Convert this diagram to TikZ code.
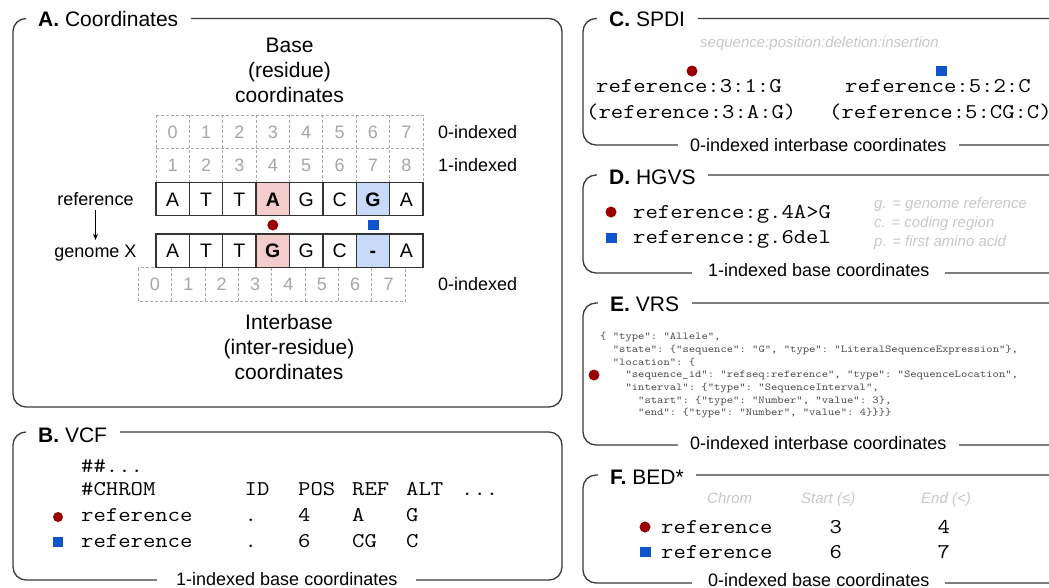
\documentclass[tikz,border=0pt]{standalone}
\usepackage{fontspec}
\setmainfont{Liberation Sans}
\usepackage{graphicx}
\usetikzlibrary{arrows.meta}

\definecolor{framec}{HTML}{3A3A3A}
\definecolor{cellc}{HTML}{333333}
\definecolor{dashc}{HTML}{A8A8A8}
\definecolor{numc}{HTML}{A6A6A6}
\definecolor{notec}{HTML}{C8C8C8}
\definecolor{jsonc}{HTML}{4A4A4A}
\definecolor{mutred}{HTML}{990000}
\definecolor{delblue}{HTML}{1155CC}
\definecolor{snvfill}{HTML}{F4CCCC}
\definecolor{delfill}{HTML}{C9DAF8}

% Courier-width typewriter text: size, then content
\newcommand{\cmono}[2]{\scalebox{1.143}[1]{\fontsize{#1}{#1}\selectfont\ttfamily\frenchspacing #2}}

\begin{document}
\begin{tikzpicture}[x=1pt,y=-1pt,
  frame/.style={draw=framec, line width=1.3pt, rounded corners=13pt},
  ptitle/.style={fill=white, inner xsep=12.5pt, inner ysep=3pt, anchor=base west,
                 font=\fontsize{21}{21}\selectfont},
  pfoot/.style={fill=white, inner ysep=3pt, anchor=base west,
                font=\fontsize{18}{18}\selectfont},
  headline/.style={anchor=base, inner sep=0pt, font=\fontsize{21}{21}\selectfont},
  sidelabel/.style={anchor=base, inner sep=0pt, font=\fontsize{18}{18}\selectfont},
  idxlabel/.style={anchor=base west, inner sep=0pt, font=\fontsize{18}{18}\selectfont},
  idxcell/.style={minimum width=33.375pt, minimum height=33.5pt, inner sep=0pt,
                  text=numc, text height=12.9pt, text depth=0pt,
                  font=\fontsize{18}{18}\selectfont},
  seqcell/.style={draw=cellc, line width=1.3pt, minimum width=33.375pt,
                  minimum height=33.5pt, inner sep=0pt, text height=14pt,
                  text depth=0pt, font=\fontsize{19.5}{19.5}\selectfont},
  snvcell/.style={seqcell, fill=snvfill, font=\fontsize{19.5}{19.5}\selectfont\bfseries},
  delcell/.style={seqcell, fill=delfill, font=\fontsize{19.5}{19.5}\selectfont\bfseries},
  dashgrid/.style={draw=dashc, line width=0.9pt, dash pattern=on 3pt off 2pt},
  mutdot/.style={circle, fill=mutred, minimum size=11pt, inner sep=0pt},
  delsq/.style={rectangle, fill=delblue, minimum width=11pt, minimum height=10.5pt, inner sep=0pt},
  monotxt/.style={anchor=base west, inner sep=0pt},
  notetxt/.style={anchor=base west, inner sep=0pt, text=notec,
                  font=\fontsize{15}{15}\selectfont\itshape},
  jsontxt/.style={anchor=base west, inner sep=0pt, text=jsonc}
]
\useasboundingbox (0,0) rectangle (1049,587);
\clip (0,0) rectangle (1049,587);

% ---------------- A. Coordinates ----------------
\draw[frame] (13,18.5) rectangle (562,407);
\node[ptitle] (titleA) at (25.5,26) {\textbf{A.} Coordinates\hspace{3.5pt}};

\node[headline] (baseh1) at (289.5,52.5) {Base};
\node[headline] (baseh2) at (289.5,77.5) {(residue)};
\node[headline] (baseh3) at (289.5,102.5) {coordinates};

% dashed index grids
\draw[dashgrid] (156,115) rectangle (423,182);
\draw[dashgrid] (156,148.5) -- (423,148.5);
\foreach \k in {1,...,7}
  \draw[dashgrid] ({156+33.375*\k},115) -- ({156+33.375*\k},182);
\draw[dashgrid] (138.3,267.5) rectangle (405.3,301);
\foreach \k in {1,...,7}
  \draw[dashgrid] ({138.3+33.375*\k},267.5) -- ({138.3+33.375*\k},301);

\foreach \i in {0,...,7} {
  \pgfmathtruncatemacro{\j}{\i+1}
  \node[idxcell] (zb-\i) at ({156+33.375*(\i+0.5)},131.75) {\i};
  \node[idxcell] (ob-\i) at ({156+33.375*(\i+0.5)},165.25) {\j};
  \node[idxcell] (ib-\i) at ({138.3+33.375*(\i+0.5)},284.25) {\i};
}

% sequences
\foreach \i/\t/\s in {0/A/seqcell,1/T/seqcell,2/T/seqcell,3/A/snvcell,
                      4/G/seqcell,5/C/seqcell,6/G/delcell,7/A/seqcell}
  \node[\s] (ref-\i) at ({156+33.375*(\i+0.5)},199) {\t};
\foreach \i/\t/\s in {0/A/seqcell,1/T/seqcell,2/T/seqcell,3/G/snvcell,
                      4/G/seqcell,5/C/seqcell,6/-/delcell,7/A/seqcell}
  \node[\s] (gen-\i) at ({156+33.375*(\i+0.5)},250.75) {\t};

\node[mutdot] (a-dot) at (272.8,225) {};
\node[delsq] (a-sq) at (373,225) {};

\node[idxlabel] (lab-zb) at (438,138.25) {0-indexed};
\node[idxlabel] (lab-ob) at (438,171.75) {1-indexed};
\node[idxlabel] (lab-ib) at (438,290.75) {0-indexed};

\node[sidelabel] (reflab) at (95.5,205.5) {reference};
\node[sidelabel] (genlab) at (95.5,257) {genome X};
\draw[-{Stealth[length=6pt,width=5pt]}, line width=0.9pt, shorten <=4pt, shorten >=4.5pt]
  (reflab.south) -- (genlab.north);

\node[headline] (ibh1) at (289,329.5) {Interbase};
\node[headline] (ibh2) at (289,354.5) {(inter-residue)};
\node[headline] (ibh3) at (289,379.5) {coordinates};

% ---------------- B. VCF ----------------
\draw[frame] (13,432) rectangle (562,580);
\node[ptitle] (titleB) at (25.5,442.5) {\textbf{B.} VCF\hspace{6.5pt}};
\node[pfoot, inner xsep=19pt] (footB) at (157,585) {1-indexed base coordinates};

\node[monotxt] (vcf-meta) at (81,472) {\cmono{21}{\#\#...}};
\node[monotxt] (vcf-h1) at (81,495.5) {\cmono{21}{\#CHROM}};
\node[monotxt] (vcf-h2) at (244.5,495.5) {\cmono{21}{ID}};
\node[monotxt] (vcf-h3) at (298,495.5) {\cmono{21}{POS}};
\node[monotxt] (vcf-h4) at (352,495.5) {\cmono{21}{REF}};
\node[monotxt] (vcf-h5) at (406,495.5) {\cmono{21}{ALT}};
\node[monotxt] (vcf-h6) at (461,495.5) {\cmono{21}{...}};

\node[mutdot, minimum size=10pt] (vcf-dot) at (58,517) {};
\node[monotxt] (vcf-a1) at (81,521.5) {\cmono{21}{reference}};
\node[monotxt] (vcf-a2) at (244.5,521.5) {\cmono{21}{.}};
\node[monotxt] (vcf-a3) at (298,521.5) {\cmono{21}{4}};
\node[monotxt] (vcf-a4) at (352,521.5) {\cmono{21}{A}};
\node[monotxt] (vcf-a5) at (406,521.5) {\cmono{21}{G}};

\node[delsq, minimum width=10pt, minimum height=10pt] (vcf-sq) at (58,542) {};
\node[monotxt] (vcf-b1) at (81,547) {\cmono{21}{reference}};
\node[monotxt] (vcf-b2) at (244.5,547) {\cmono{21}{.}};
\node[monotxt] (vcf-b3) at (298,547) {\cmono{21}{6}};
\node[monotxt] (vcf-b4) at (352,547) {\cmono{21}{CG}};
\node[monotxt] (vcf-b5) at (406,547) {\cmono{21}{C}};

% ---------------- C. SPDI ----------------
\draw[frame] (1070,18.5) -- (583,18.5) -- (583,145) -- (1070,145);
\node[ptitle] (titleC) at (596.5,26) {\textbf{C.} SPDI\hspace{4.5pt}};
\node[pfoot, inner xsep=12.5pt] (footC) at (677.5,151.5) {0-indexed interbase coordinates\hspace{1.5pt}};
\node[notetxt] (spdi-fmt) at (700,47) {sequence:position:deletion:insertion};
\node[mutdot] (spdi-dot) at (692,71) {};
\node[delsq] (spdi-sq) at (941,71) {};
\node[monotxt] (spdi-a1) at (596,92.5) {\cmono{21}{reference:3:1:G}};
\node[monotxt] (spdi-a2) at (586,118.5) {\cmono{21}{(reference:3:A:G)}};
\node[monotxt] (spdi-b1) at (845,92.5) {\cmono{21}{reference:5:2:C}};
\node[monotxt] (spdi-b2) at (829,118.5) {\cmono{21}{(reference:5:CG:C)}};

% ---------------- D. HGVS ----------------
\draw[frame] (1070,175) -- (583,175) -- (583,273) -- (1070,273);
\node[ptitle] (titleD) at (596.5,184) {\textbf{D.} HGVS\hspace{9.5pt}};
\node[pfoot, inner xsep=16pt] (footD) at (692,276.5) {1-indexed base coordinates\hspace{1pt}};
\node[mutdot] (hgvs-dot) at (611,212) {};
\node[delsq] (hgvs-sq) at (611,238) {};
\node[monotxt] (hgvs-a) at (633,218) {\cmono{21}{reference:g.4A>G}};
\node[monotxt] (hgvs-b) at (633,243.5) {\cmono{21}{reference:g.6del}};
\node[notetxt] (hgvs-n1) at (874,208.5) {g. = genome reference};
\node[notetxt] (hgvs-n2) at (874,227.5) {c. = coding region};
\node[notetxt] (hgvs-n3) at (874,246) {p. = first amino acid};

% ---------------- E. VRS ----------------
\draw[frame] (1070,303) -- (583,303) -- (583,445) -- (1070,445);
\node[ptitle] (titleE) at (597.5,311.5) {\textbf{E.} VRS\hspace{11.5pt}};
\node[pfoot, inner xsep=12.5pt] (footE) at (677.5,449.5) {0-indexed interbase coordinates\hspace{1.5pt}};
\node[mutdot] (vrs-dot) at (594,375) {};
\node[jsontxt] (vrs-1) at (600,339.7) {\cmono{10.55}{\{ "type": "Allele",}};
\node[jsontxt] (vrs-2) at (612.7,352.4) {\cmono{10.55}{"state": \{"sequence": "G", "type": "LiteralSequenceExpression"\},}};
\node[jsontxt] (vrs-3) at (612.7,365.0) {\cmono{10.55}{"location": \{}};
\node[jsontxt] (vrs-4) at (625.3,377.7) {\cmono{10.55}{"sequence\_id": "refseq:reference", "type": "SequenceLocation",}};
\node[jsontxt] (vrs-5) at (625.3,390.4) {\cmono{10.55}{"interval": \{"type": "SequenceInterval",}};
\node[jsontxt] (vrs-6) at (638,403.0) {\cmono{10.55}{"start": \{"type": "Number", "value": 3\},}};
\node[jsontxt] (vrs-7) at (638,415.7) {\cmono{10.55}{"end": \{"type": "Number", "value": 4\}\}\}\}}};

% ---------------- F. BED* ----------------
\draw[frame] (1070,475) -- (583,475) -- (583,583) -- (1070,583);
\node[ptitle] (titleF) at (597.5,484) {\textbf{F.} BED*\hspace{5.5pt}};
\node[pfoot, inner xsep=16pt] (footF) at (692,586.5) {0-indexed base coordinates\hspace{1pt}};
\node[notetxt] (bed-h1) at (707,503.5) {Chrom};
\node[notetxt] (bed-h2) at (801,503.5) {Start (≤)};
\node[notetxt] (bed-h3) at (921,503.5) {End (<)};
\node[mutdot] (bed-dot) at (645,527) {};
\node[delsq] (bed-sq) at (645,552) {};
\node[monotxt] (bed-a1) at (661,533.5) {\cmono{21}{reference}};
\node[monotxt] (bed-a2) at (829.5,533.5) {\cmono{21}{3}};
\node[monotxt] (bed-a3) at (937.5,533.5) {\cmono{21}{4}};
\node[monotxt] (bed-b1) at (661,558.5) {\cmono{21}{reference}};
\node[monotxt] (bed-b2) at (829.5,558.5) {\cmono{21}{6}};
\node[monotxt] (bed-b3) at (937.5,558.5) {\cmono{21}{7}};
\end{tikzpicture}
\end{document}
